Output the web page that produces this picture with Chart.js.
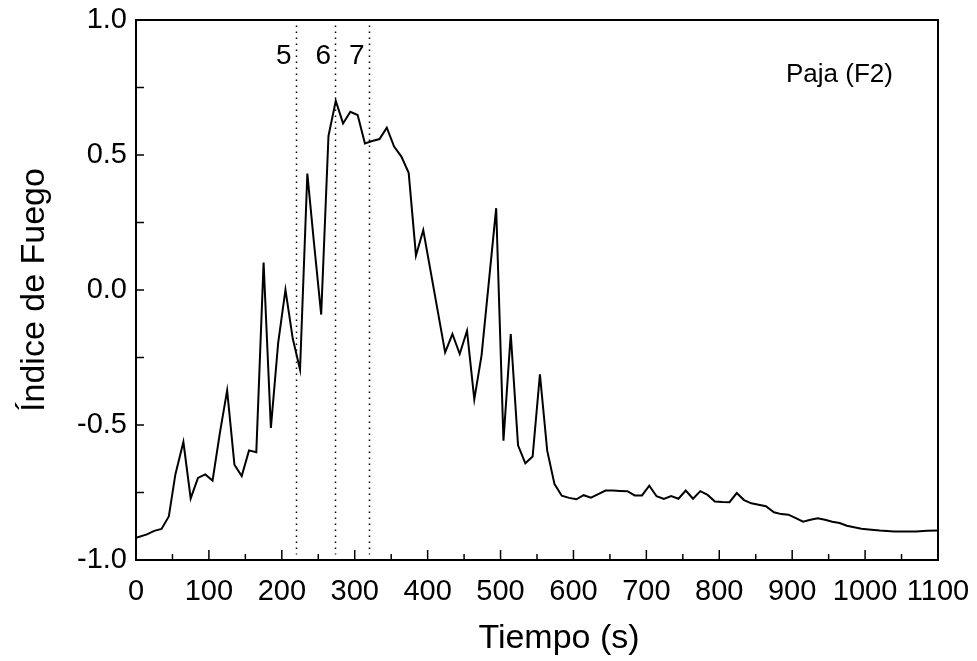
<!DOCTYPE html>
<html>
<head>
<meta charset="utf-8">
<script src="https://cdn.jsdelivr.net/npm/chart.js@4"></script>
<style>
  html, body { margin: 0; padding: 0; background: #fff; }
  #wrap { width: 977px; height: 661px; }
</style>
</head>
<body>
<div id="wrap"><canvas id="grafico"></canvas></div>
<script>
Chart.defaults.font.family = '"Liberation Sans", Arial, sans-serif';
Chart.defaults.color = '#000';

// tiempo (s) y valores del indice de fuego
var tiempo = [0, 15, 25, 35, 45, 54, 65, 75, 85, 95, 105, 115, 125, 135, 145, 155, 165, 175, 185, 195,
  205, 215, 225, 235, 244, 254, 264, 274, 284, 294, 304, 314, 324, 334, 344, 354, 364, 374, 384, 394,
  424, 434, 444, 454, 464, 474, 494, 504, 514, 524, 534, 544, 554, 564, 574, 584, 594, 604, 614, 624,
  634, 644, 654, 664, 674, 684, 694, 704, 714, 724, 734, 744, 754, 764, 774, 784, 794, 804, 814, 824,
  834, 844, 854, 864, 875, 885, 895, 905, 915, 925, 935, 945, 955, 965, 975, 985, 995, 1005, 1020, 1040,
  1070, 1085, 1100];
var indice = [-0.918, -0.905, -0.892, -0.885, -0.839, -0.683, -0.563, -0.772, -0.696, -0.683,
  -0.706, -0.530, -0.372, -0.647, -0.689, -0.594, -0.601, 0.102, -0.511, -0.196,
  0.001, -0.180, -0.295, 0.431, 0.177, -0.091, 0.571, 0.700, 0.617, 0.660,
  0.648, 0.543, 0.552, 0.559, 0.601, 0.531, 0.494, 0.434, 0.128, 0.222,
  -0.231, -0.163, -0.237, -0.151, -0.405, -0.241, 0.303, -0.558, -0.163, -0.575,
  -0.642, -0.617, -0.312, -0.595, -0.719, -0.762, -0.770, -0.775, -0.760, -0.769,
  -0.756, -0.743, -0.743, -0.744, -0.745, -0.761, -0.761, -0.725, -0.764, -0.774,
  -0.763, -0.773, -0.743, -0.773, -0.745, -0.759, -0.783, -0.785, -0.786, -0.752,
  -0.778, -0.790, -0.795, -0.801, -0.823, -0.830, -0.832, -0.845, -0.858, -0.851,
  -0.845, -0.851, -0.858, -0.863, -0.873, -0.879, -0.884, -0.887, -0.891, -0.894,
  -0.894, -0.892, -0.891];

var xTicks = [0, 100, 200, 300, 400, 500, 600, 700, 800, 900, 1000, 1100];
var yTicks = [-1.0, -0.5, 0.0, 0.5, 1.0];

// lineas punteadas 5, 6, 7
var marcas = [219, 273, 319];
var marcaTextos = ['5', '6', '7'];

var puntos = tiempo.map(function (t, i) { return { x: t, y: indice[i] }; });

var extras = {
  id: 'extras',
  beforeDatasetsDraw: function (chart) {
    var ctx = chart.ctx, x = chart.scales.x, y = chart.scales.y;
    ctx.save();
    ctx.strokeStyle = '#000';
    ctx.lineWidth = 1.5;
    ctx.setLineDash([1.5, 4.5]);
    marcas.forEach(function (m) {
      var px = Math.round(x.getPixelForValue(m)) + 0.5;
      ctx.beginPath();
      ctx.moveTo(px, y.getPixelForValue(0.98));
      ctx.lineTo(px, y.getPixelForValue(-0.98));
      ctx.stroke();
    });
    ctx.setLineDash([]);
    ctx.fillStyle = '#000';
    ctx.font = '28px "Liberation Sans", Arial, sans-serif';
    ctx.textAlign = 'right';
    ctx.textBaseline = 'middle';
    marcas.forEach(function (m, i) {
      ctx.fillText(marcaTextos[i], x.getPixelForValue(m) - 4, 56);
    });
    ctx.font = '26px "Liberation Sans", Arial, sans-serif';
    ctx.textAlign = 'left';
    ctx.fillText('Paja (F2)', 786, 75);
    // titulo del eje x
    ctx.font = '34px "Liberation Sans", Arial, sans-serif';
    ctx.textAlign = 'center';
    ctx.fillText('Tiempo (s)', (x.left + x.right) / 2 + 22, 639);
    ctx.restore();
  },
  afterDraw: function (chart) {
    var ctx = chart.ctx, a = chart.chartArea, x = chart.scales.x, y = chart.scales.y;
    ctx.save();
    ctx.strokeStyle = '#000';
    ctx.lineWidth = 2;
    ctx.strokeRect(a.left, a.top, a.right - a.left, a.bottom - a.top);
    ctx.lineWidth = 1.5;
    for (var v = 50; v < 1100; v += 50) {
      var px = x.getPixelForValue(v);
      var len = v % 100 === 0 ? 10 : 6;
      ctx.beginPath();
      ctx.moveTo(px, a.bottom);
      ctx.lineTo(px, a.bottom - len);
      ctx.stroke();
    }
    for (var w = -0.75; w < 1; w += 0.25) {
      var py = y.getPixelForValue(w);
      ctx.beginPath();
      ctx.moveTo(a.left, py);
      ctx.lineTo(a.left + 8, py);
      ctx.stroke();
    }
    ctx.restore();
  }
};

new Chart(document.getElementById('grafico'), {
  type: 'line',
  data: {
    datasets: [{
      data: puntos,
      borderColor: '#000',
      borderWidth: 2,
      pointRadius: 0,
      tension: 0,
      fill: false
    }]
  },
  options: {
    responsive: true,
    maintainAspectRatio: false,
    animation: false,
    layout: { padding: { top: 20, right: 39, left: 0, bottom: 0 } },
    plugins: { legend: { display: false }, tooltip: { enabled: false } },
    scales: {
      x: {
        type: 'linear',
        min: 0,
        max: 1100,
        grid: { display: false, drawTicks: false },
        border: { display: false },
        afterBuildTicks: function (s) { s.ticks = xTicks.map(function (v) { return { value: v }; }); },
        afterFit: function (s) { s.height = 101; s.paddingLeft = 0; s.paddingRight = 0; },
        ticks: {
          font: { size: 29 },
          padding: 15,
          maxRotation: 0,
          autoSkip: false,
          callback: function (v) { return String(v); }
        }
      },
      y: {
        min: -1,
        max: 1,
        grid: { display: false, drawTicks: false },
        border: { display: false },
        afterBuildTicks: function (s) { s.ticks = yTicks.map(function (v) { return { value: v }; }); },
        afterFit: function (s) { s.width = 136; s.paddingTop = 0; s.paddingBottom = 0; },
        ticks: {
          font: { size: 29 },
          padding: 9,
          callback: function (v) { return Number(v).toFixed(1); }
        },
        title: {
          display: true,
          text: 'Índice de Fuego',
          font: { size: 34 },
          padding: { top: 14, bottom: 0 }
        }
      }
    }
  },
  plugins: [extras]
});
</script>
</body>
</html>
